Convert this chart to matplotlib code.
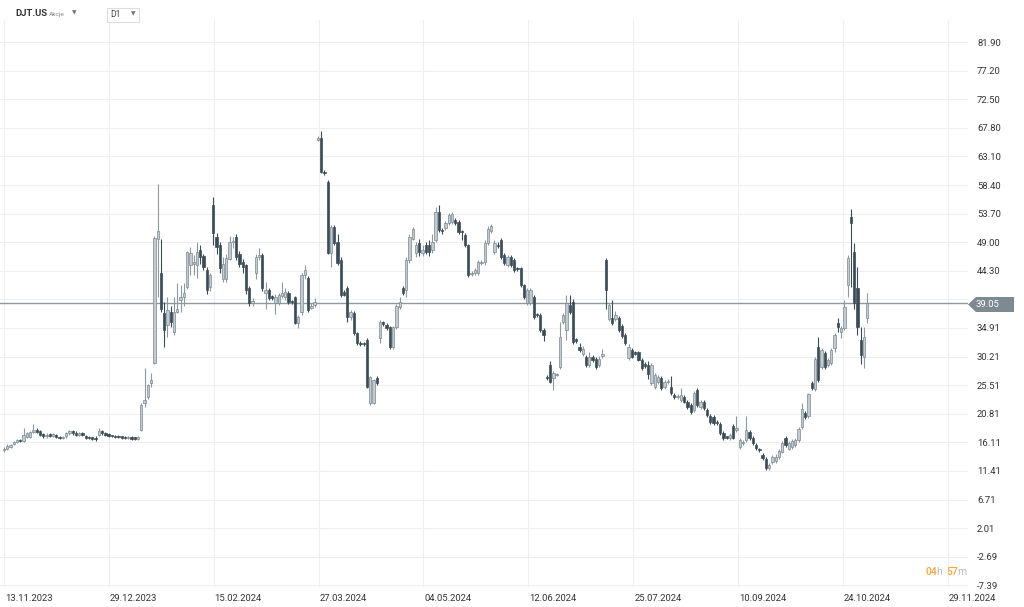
import matplotlib
matplotlib.use("Agg")
import matplotlib.pyplot as plt
from matplotlib.patches import Polygon, Rectangle
import numpy as np

plt.rcParams['font.family'] = ['Roboto', 'DejaVu Sans']

# daily candles DJT.US
opens = [14.8, 15.1, 15.4, 15.8, 16.2, 16.5, 16.4, 17.0, 17.0, 17.8,
         18.2, 17.9, 17.5, 17.1, 17.5, 17.2, 17.3, 17.0, 16.8, 17.1,
         17.6, 17.9, 17.7, 17.4, 17.6, 17.2, 17.0, 16.8, 16.9, 17.3,
         17.9, 17.6, 17.4, 17.2, 17.2, 17.1, 17.0, 16.9, 16.8, 16.9,
         16.8, 16.7, 18.2, 22.6, 23.6, 25.8, 29.2, 49.5, 44.0, 37.4,
         35.4, 37.5, 34.2, 37.5, 39.5, 40.0, 41.6, 45.3, 45.4, 45.2,
         47.7, 46.7, 44.4, 41.6, 55.1, 49.9, 48.5, 42.9, 43.0, 46.3,
         49.0, 49.8, 47.0, 45.7, 45.2, 41.4, 39.0, 43.9, 46.5, 46.9,
         40.7, 41.1, 40.0, 39.0, 39.0, 40.1, 40.0, 40.7, 39.3, 40.0,
         35.8, 37.5, 43.6, 43.1, 38.2, 38.7, 65.8, 66.1, 60.6, 58.9,
         47.2, 51.5, 49.1, 46.1, 40.8, 41.5, 36.7, 37.4, 34.1, 32.5,
         32.3, 32.9, 22.6, 22.6, 26.7, 33.3, 35.8, 35.4, 35.0, 31.8,
         35.1, 38.3, 41.5, 41.1, 46.0, 49.6, 47.2, 48.8, 47.2, 48.5,
         48.5, 47.7, 49.4, 54.0, 51.0, 51.3, 52.1, 52.3, 52.7, 52.4,
         50.9, 50.2, 48.5, 43.8, 43.9, 43.9, 45.6, 45.7, 48.9, 50.9,
         47.4, 48.6, 49.4, 46.9, 45.3, 46.6, 46.1, 44.8, 44.8, 42.0,
         39.0, 39.0, 40.0, 37.2, 37.0, 34.6, 26.9, 28.8, 26.7, 27.2,
         28.5, 35.9, 34.5, 38.7, 39.2, 32.9, 31.8, 30.6, 30.1, 28.8,
         30.1, 29.8, 28.8, 30.3, 46.1, 36.4, 36.5, 36.4, 36.5, 35.3,
         33.7, 30.0, 31.3, 30.9, 30.9, 29.6, 28.9, 28.9, 25.9, 25.2,
         26.0, 26.7, 25.2, 26.0, 25.2, 23.9, 23.5, 23.1, 23.6, 22.8,
         22.2, 21.4, 24.7, 21.9, 22.8, 21.4, 20.4, 20.3, 19.5, 19.1,
         17.7, 17.0, 16.8, 18.8, 18.1, 15.3, 16.0, 16.5, 17.8, 16.8,
         15.7, 15.0, 14.0, 13.4, 11.9, 12.9, 13.1, 13.7, 14.6, 16.8,
         15.1, 15.4, 15.7, 16.5, 18.6, 21.0, 20.4, 25.9, 24.9, 31.8,
         28.5, 30.8, 28.8, 29.1, 31.6, 35.7, 34.2, 34.9, 42.0, 53.1,
         47.4, 41.5, 32.9, 30.2, 36.5]
highs = [15.3, 15.8, 15.9, 16.4, 16.7, 16.7, 18.4, 17.8, 18.0, 19.1,
         18.4, 18.1, 17.7, 17.6, 17.7, 17.7, 17.5, 17.2, 17.2, 17.8,
         18.1, 18.1, 17.9, 17.8, 17.8, 17.4, 17.2, 17.0, 17.1, 18.4,
         18.1, 17.8, 17.6, 17.4, 17.4, 17.3, 17.2, 17.1, 17.1, 17.1,
         17.0, 17.2, 22.6, 28.3, 25.7, 27.5, 50.0, 58.6, 49.5, 39.2,
         40.0, 38.5, 40.0, 42.3, 42.0, 42.3, 47.6, 48.2, 46.9, 49.0,
         48.5, 47.0, 45.0, 44.0, 56.4, 50.5, 49.0, 46.6, 47.0, 50.0,
         49.8, 50.3, 47.5, 46.2, 45.5, 41.8, 39.8, 47.0, 48.0, 47.2,
         42.5, 41.5, 40.3, 40.5, 40.7, 42.5, 41.5, 41.0, 39.5, 40.2,
         37.0, 44.0, 45.3, 43.5, 39.0, 39.8, 66.5, 67.3, 60.8, 59.2,
         51.8, 51.8, 50.3, 46.5, 41.1, 41.8, 37.9, 37.7, 34.3, 32.7,
         32.6, 33.3, 27.0, 26.6, 27.0, 36.2, 36.0, 35.7, 35.3, 35.3,
         38.9, 40.0, 41.8, 46.5, 50.3, 51.5, 49.0, 49.5, 48.5, 49.0,
         49.3, 50.3, 54.8, 55.1, 51.4, 52.5, 53.8, 53.9, 53.0, 52.7,
         51.0, 50.5, 48.7, 44.3, 44.7, 46.0, 46.1, 49.3, 51.6, 52.0,
         49.3, 49.0, 49.7, 47.2, 46.9, 46.9, 46.4, 45.0, 45.0, 42.2,
         41.4, 41.5, 40.3, 37.4, 37.3, 34.9, 27.1, 29.5, 27.8, 27.5,
         35.9, 37.3, 40.3, 40.3, 39.6, 33.2, 32.5, 31.9, 30.4, 31.0,
         30.4, 30.1, 30.3, 31.4, 46.4, 39.0, 39.5, 37.7, 36.9, 35.6,
         34.0, 32.3, 31.6, 31.2, 31.2, 29.9, 29.3, 29.5, 29.1, 27.5,
         27.2, 27.0, 26.3, 26.5, 27.0, 24.2, 24.0, 25.0, 23.9, 23.1,
         22.5, 24.5, 25.0, 23.1, 23.1, 21.7, 20.7, 20.6, 19.8, 19.4,
         18.0, 17.2, 17.6, 19.1, 20.5, 16.8, 16.5, 20.4, 18.1, 17.1,
         16.0, 15.2, 14.3, 13.7, 12.7, 14.0, 14.2, 15.0, 16.3, 17.1,
         16.3, 16.6, 16.8, 18.6, 22.6, 21.3, 24.3, 26.2, 30.1, 33.4,
         31.6, 31.1, 29.9, 31.6, 34.1, 36.5, 35.2, 39.5, 46.9, 54.4,
         48.9, 44.9, 35.0, 35.0, 40.6]
lows = [14.6, 14.9, 15.2, 15.6, 16.0, 16.1, 16.2, 16.8, 16.8, 17.6,
        17.6, 17.2, 16.9, 16.9, 17.0, 17.0, 16.8, 16.6, 16.6, 16.9,
        17.4, 17.4, 17.2, 17.2, 17.1, 16.7, 16.6, 16.5, 16.4, 17.1,
        17.4, 17.2, 17.0, 17.0, 16.8, 16.8, 16.7, 16.6, 16.6, 16.5,
        16.5, 16.5, 18.0, 22.0, 23.2, 25.2, 29.0, 40.0, 37.5, 31.8,
        33.4, 35.0, 33.8, 37.3, 37.5, 38.5, 41.3, 43.6, 43.6, 43.1,
        45.5, 44.5, 40.5, 41.0, 48.5, 47.0, 44.0, 42.4, 42.5, 46.0,
        48.0, 46.0, 45.0, 44.0, 40.5, 38.6, 38.6, 43.0, 46.0, 41.0,
        38.0, 39.5, 39.5, 37.2, 38.7, 39.8, 39.5, 38.9, 38.8, 35.5,
        34.9, 37.0, 43.0, 37.5, 38.0, 38.4, 65.6, 60.3, 60.1, 47.0,
        44.9, 48.5, 45.2, 40.0, 40.1, 35.9, 36.2, 33.8, 32.1, 32.0,
        31.9, 25.0, 22.3, 22.4, 25.6, 32.5, 35.3, 34.6, 31.5, 31.5,
        34.8, 38.0, 40.3, 40.0, 45.6, 49.3, 46.5, 46.8, 46.8, 47.0,
        46.8, 47.3, 49.0, 50.7, 50.3, 51.0, 51.8, 52.0, 51.8, 50.4,
        49.3, 48.2, 43.3, 43.5, 43.6, 43.6, 45.3, 45.3, 48.6, 50.5,
        47.0, 48.0, 46.3, 45.3, 45.0, 45.0, 44.1, 44.3, 41.7, 39.7,
        38.7, 38.7, 36.4, 36.7, 34.3, 32.8, 26.4, 25.8, 24.7, 27.0,
        28.2, 35.5, 33.0, 37.2, 32.3, 32.5, 31.0, 30.3, 28.5, 28.5,
        29.3, 28.2, 28.5, 30.0, 38.0, 36.0, 35.4, 36.0, 34.3, 33.2,
        32.1, 29.7, 29.9, 30.4, 29.4, 28.0, 28.4, 26.6, 25.6, 24.9,
        25.7, 24.7, 24.9, 25.7, 23.9, 23.3, 23.2, 22.8, 22.5, 21.6,
        20.8, 21.1, 21.9, 21.6, 21.5, 20.3, 19.1, 19.0, 19.0, 17.4,
        16.5, 16.6, 16.5, 16.6, 17.8, 15.0, 15.7, 16.2, 16.5, 15.7,
        14.9, 14.5, 13.2, 11.6, 11.6, 12.6, 12.8, 13.4, 14.3, 15.4,
        14.8, 15.1, 15.4, 16.2, 18.3, 20.0, 20.1, 24.7, 24.6, 26.1,
        28.2, 28.2, 28.5, 28.8, 31.0, 34.2, 33.3, 34.6, 40.0, 41.6,
        38.0, 33.7, 29.0, 28.4, 35.7]
closes = [15.1, 15.5, 15.7, 16.2, 16.5, 16.3, 17.3, 17.6, 17.8, 18.2,
          17.8, 17.4, 17.1, 17.4, 17.2, 17.5, 17.0, 16.8, 17.0, 17.6,
          17.9, 17.6, 17.4, 17.6, 17.3, 16.9, 16.8, 16.7, 16.6, 18.0,
          17.6, 17.4, 17.2, 17.15, 17.0, 17.0, 16.9, 16.8, 16.9, 16.7,
          16.7, 17.0, 22.3, 23.0, 25.5, 26.4, 49.7, 50.8, 38.0, 34.6,
          37.9, 35.9, 37.5, 38.0, 40.0, 40.7, 47.4, 47.2, 45.8, 47.4,
          46.6, 45.0, 41.1, 43.6, 50.5, 48.2, 44.8, 45.5, 46.4, 49.0,
          49.2, 46.6, 45.5, 44.9, 41.1, 39.0, 39.3, 46.6, 46.9, 41.5,
          41.2, 39.8, 39.9, 40.0, 40.3, 40.7, 40.8, 39.2, 39.1, 35.7,
          36.7, 43.6, 44.4, 37.9, 38.6, 39.2, 66.1, 60.5, 60.3, 47.2,
          51.5, 48.9, 45.6, 40.3, 40.4, 36.7, 37.5, 34.1, 32.4, 32.3,
          32.2, 25.2, 26.8, 26.3, 25.9, 35.9, 35.6, 34.9, 31.8, 35.0,
          38.6, 39.2, 40.6, 46.1, 49.9, 51.2, 48.5, 47.4, 47.7, 47.4,
          47.4, 49.0, 54.0, 51.0, 50.8, 52.1, 53.5, 53.6, 52.2, 50.7,
          50.7, 48.5, 43.6, 44.0, 44.4, 45.7, 45.8, 48.9, 51.2, 51.6,
          48.9, 48.4, 46.6, 45.6, 46.6, 45.3, 44.4, 44.6, 42.0, 40.0,
          41.1, 41.1, 36.7, 37.0, 34.6, 33.7, 26.7, 26.0, 27.5, 27.3,
          33.5, 37.0, 39.0, 37.5, 32.6, 32.8, 31.3, 31.5, 28.8, 30.1,
          29.6, 28.5, 29.8, 30.6, 41.1, 38.7, 35.7, 37.0, 34.6, 33.6,
          32.4, 31.8, 30.2, 30.7, 29.7, 28.3, 28.7, 27.3, 28.8, 27.2,
          26.9, 25.0, 26.0, 26.2, 24.2, 23.6, 23.8, 23.9, 22.8, 21.9,
          21.1, 24.2, 22.2, 22.8, 21.8, 20.6, 19.4, 19.3, 19.3, 17.7,
          16.8, 16.9, 17.3, 16.9, 18.5, 16.5, 16.2, 18.1, 16.8, 16.0,
          15.2, 14.8, 13.5, 11.9, 12.4, 13.7, 13.7, 14.7, 16.0, 15.7,
          16.0, 16.3, 16.5, 18.3, 21.6, 20.3, 24.0, 25.0, 29.8, 26.4,
          31.3, 28.5, 29.6, 31.3, 33.8, 35.1, 34.9, 38.4, 46.4, 52.2,
          39.0, 35.1, 30.5, 33.4, 39.05]

price_ticks = [81.90, 77.20, 72.50, 67.80, 63.10, 58.40, 53.70, 49.00, 44.30, 39.60,
               34.91, 30.21, 25.51, 20.81, 16.11, 11.41, 6.71, 2.01, -2.69, -7.39]
date_labels = ['13.11.2023', '29.12.2023', '15.02.2024', '27.03.2024', '04.05.2024',
               '12.06.2024', '25.07.2024', '10.09.2024', '24.10.2024', '29.11.2024']
last_price = 39.05

W, H = 1024, 607
dark = '#3c4c56'
light_fill = '#c3cbd0'
light_edge = '#7b8891'
grid_c = '#efefef'


def fx(px):
    return px / W


def fy(py):
    return 1 - py / H


fig = plt.figure(figsize=(W / 100, H / 100), dpi=100)
ax = fig.add_axes([0, fy(587), fx(968), (587 - 20) / H])

n = len(opens)
x = np.arange(n)
o = np.array(opens)
c = np.array(closes)
hi = np.array(highs)
lo = np.array(lows)
up = c >= o

# grid
bar_step = 32.07
tick_pos = [k * bar_step for k in range(len(date_labels))]
for p in price_ticks:
    ax.axhline(p, color=grid_c, lw=0.8, zorder=0)
for t in tick_pos:
    ax.axvline(t, color=grid_c, lw=0.8, zorder=0)

# candles
ax.vlines(x[up], lo[up], hi[up], color='#8d989f', lw=0.8, zorder=2)
ax.vlines(x[~up], lo[~up], hi[~up], color=dark, lw=0.8, zorder=2)
body = np.maximum(np.abs(c - o), 0.22)
bottom = np.minimum(o, c)
ax.bar(x[up], body[up], bottom=bottom[up], width=0.7, color=light_fill,
       edgecolor=light_edge, linewidth=0.5, zorder=3)
ax.bar(x[~up], body[~up], bottom=bottom[~up], width=0.7, color=dark,
       edgecolor=dark, linewidth=0.5, zorder=3)

# last price line
ax.axhline(last_price, color='#8e999f', lw=1.0, zorder=1)

ax.set_xlim(-1.22, 294.8)
ax.set_ylim(-7.66, 85.52)
for s in ax.spines.values():
    s.set_visible(False)
ax.set_xticks([])
ax.yaxis.tick_right()
ax.set_yticks(price_ticks)
# the 39.60 label sits under the last price tag, so it is left blank
ax.set_yticklabels(['' if abs(p - last_price) < 1 else f'{p:.2f}' for p in price_ticks])
ax.tick_params(axis='y', length=0, pad=6.5, labelsize=6.8, labelcolor='#333333')

# date labels, left aligned on their grid lines
for t, lab in zip(tick_pos, date_labels):
    ax.text(t + 0.3, -8.76, lab, ha='left', va='top',
            fontsize=6.8, color='#333333', clip_on=False)

# last price tag
tag = Polygon([(fx(968), fy(304.5)), (fx(976), fy(297)), (fx(1014), fy(297)),
               (fx(1014), fy(312)), (fx(976), fy(312))], closed=True,
              transform=fig.transFigure, facecolor='#7e8a91', edgecolor='none', zorder=5)
fig.patches.append(tag)
fig.text(fx(987), fy(304.5), f'{last_price:.2f}', color='white', fontsize=6.8,
         ha='center', va='center', zorder=6)

# header
fig.text(fx(15), fy(14), 'DJT.US', fontsize=6.8, fontweight='bold', color='#333333',
         va='center')
fig.text(fx(49), fy(14.5), 'Akcje', fontsize=4.6, color='#888888', va='center')
fig.text(fx(72), fy(13), '\u25bc', fontsize=4.2, color='#777777', va='center',
         family=['DejaVu Sans'])
fig.patches.append(Rectangle((fx(107), fy(22)), fx(32), 14 / H, transform=fig.transFigure,
                             facecolor='white', edgecolor='#dddddd', lw=0.8, zorder=5))
fig.text(fx(110), fy(14.5), 'D1', fontsize=6.2, color='#444444', va='center', zorder=6)
fig.text(fx(131), fy(13.5), '\u25bc', fontsize=4.2, color='#777777', va='center',
         family=['DejaVu Sans'], zorder=6)

# candle timer
orange = '#f5a53a'
fig.text(fx(925), fy(572), '04', fontsize=7.5, color=orange, va='center', fontweight='medium')
fig.text(fx(936), fy(572), 'h', fontsize=7.5, color='#bbbbbb', va='center')
fig.text(fx(946), fy(572), '57', fontsize=7.5, color=orange, va='center', fontweight='medium')
fig.text(fx(957), fy(572), 'm', fontsize=7.5, color='#bbbbbb', va='center')

fig.savefig('out.png', dpi=100)
